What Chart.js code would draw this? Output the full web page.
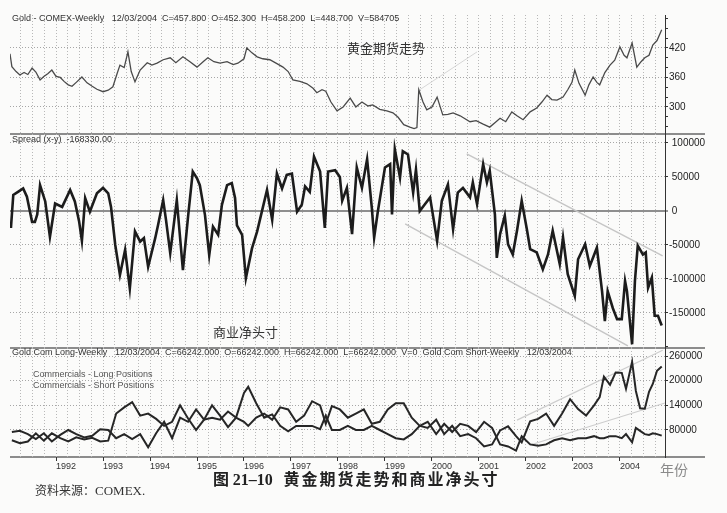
<!DOCTYPE html>
<html>
<head>
<meta charset="utf-8">
<title>黄金期货走势和商业净头寸</title>
<script src="https://cdn.jsdelivr.net/npm/chart.js@4.4.1/dist/chart.umd.min.js"></script>
<style>
  body { margin: 0; background: #fbfbfa; }
  #page { position: relative; width: 727px; height: 513px; overflow: hidden;
          font-family: 'Liberation Sans', Arial, sans-serif; color: #333; }
  canvas { position: absolute; left: 10px; }
  .rule { position: absolute; left: 10px; width: 695px; height: 2px; background: #8c8c8c; }
  .txt { position: absolute; white-space: pre; line-height: 1; }
  .hdr { font-size: 9px; color: #333; }
  .leg { font-size: 9px; color: #555; }
  .cn { font-family: 'Noto Sans CJK SC', sans-serif; font-size: 13px; color: #333; }
  .num { font-family: 'Liberation Serif', serif; }
</style>
</head>
<body>
<div id="page">
  <div class="rule" style="top:133px"></div>
  <div class="rule" style="top:347px"></div>
  <div class="rule" style="top:456px"></div>

  <canvas id="gold" width="695" height="119" style="top:15px"></canvas>
  <canvas id="spread" width="695" height="214" style="top:134px"></canvas>
  <canvas id="cot" width="695" height="124" style="top:348px"></canvas>

  <div class="txt hdr" style="left:12px; top:14px">Gold - COMEX-Weekly   12/03/2004  C=457.800  O=452.300  H=458.200  L=448.700  V=584705</div>
  <div class="txt hdr" style="left:12px; top:135px">Spread (x-y)  -168330.00</div>
  <div class="txt hdr" style="left:12px; top:348px">Gold Com Long-Weekly   12/03/2004  C=66242.000  O=66242.000  H=66242.000  L=66242.000  V=0  Gold Com Short-Weekly   12/03/2004</div>
  <div class="txt leg" style="left:33px; top:370px">Commercials - Long Positions</div>
  <div class="txt leg" style="left:33px; top:381px">Commercials - Short Positions</div>

  <div class="txt cn" style="left:347px; top:41px">黄金期货走势</div>
  <div class="txt cn" style="left:213px; top:325px">商业净头寸</div>
  <div class="txt cn" style="left:660px; top:462px; font-size:14px; color:#8a8a8a">年份</div>
  <div class="txt cn" style="left:213px; top:470px; font-size:16px; font-weight:bold; color:#222">图 <span class="num">21–10</span>   <span style="letter-spacing:2px">黄金期货走势和商业净头寸</span></div>
  <div class="txt cn" style="left:35px; top:484px; font-size:12px; color:#333">资料来源：<span class="num" style="font-size:13px">COMEX.</span></div>
</div>

<script>
// ---- data (dates as decimal years) ----
const yearLabels = [1992, 1993, 1994, 1995, 1996, 1997, 1998, 1999, 2000, 2001, 2002, 2003, 2004];
const goldTicks = [260, 280, 300, 320, 340, 360, 380, 400, 420, 440, 460, 480];
const goldTickLabels = [300, 360, 420];
const spreadTicks = [-200000, -150000, -100000, -50000, 0, 50000, 100000];
const spreadTickLabels = [100000, 50000, 0, -50000, -100000, -150000];
const cotTickLabels = [80000, 140000, 200000, 260000];

const goldYears = [
  1991.02, 1991.06, 1991.15, 1991.23, 1991.32, 1991.40, 1991.49, 1991.57, 1991.66, 1991.74,
  1991.83, 1991.91, 1992.00, 1992.09, 1992.17, 1992.26, 1992.34, 1992.43, 1992.55, 1992.66,
  1992.77, 1992.87, 1993.00, 1993.11, 1993.21, 1993.30, 1993.36, 1993.45, 1993.53, 1993.60,
  1993.68, 1993.79, 1993.94, 1994.04, 1994.15, 1994.28, 1994.43, 1994.55, 1994.70, 1994.85,
  1995.00, 1995.13, 1995.23, 1995.36, 1995.49, 1995.64, 1995.77, 1995.87, 1996.00, 1996.06,
  1996.17, 1996.28, 1996.40, 1996.55, 1996.70, 1996.83, 1996.94, 1997.04, 1997.19, 1997.34,
  1997.47, 1997.55, 1997.66, 1997.74, 1997.85, 1997.98, 1998.11, 1998.26, 1998.38, 1998.51,
  1998.64, 1998.74, 1998.89, 1999.04, 1999.17, 1999.28, 1999.40, 1999.53, 1999.62, 1999.68,
  1999.72, 1999.81, 1999.89, 2000.00, 2000.11, 2000.23, 2000.34, 2000.45, 2000.60, 2000.81,
  2000.94, 2001.09, 2001.23, 2001.34, 2001.45, 2001.57, 2001.70, 2001.81, 2001.94, 2002.09,
  2002.23, 2002.34, 2002.45, 2002.55, 2002.66, 2002.79, 2002.89, 2002.98, 2003.04, 2003.13,
  2003.26, 2003.34, 2003.43, 2003.51, 2003.57, 2003.68, 2003.79, 2003.89, 2004.00, 2004.09,
  2004.15, 2004.26, 2004.36, 2004.45, 2004.53, 2004.62, 2004.70, 2004.79, 2004.89
];
const goldPrices = [
  408, 382, 372, 365, 370, 366, 379, 371, 355, 362,
  368, 375, 362, 360, 352, 345, 342, 350, 361, 349,
  342, 336, 331, 334, 341, 368, 385, 380, 412, 372,
  351, 375, 390, 385, 389, 396, 400, 390, 402, 392,
  381, 392, 400, 392, 389, 392, 386, 389, 398, 420,
  410, 402, 398, 396, 388, 381, 372, 355, 352, 347,
  338, 329, 335, 332, 310, 292, 300, 318, 300, 310,
  302, 304, 295, 292, 288, 279, 264, 259, 256, 258,
  335, 310, 294, 300, 320, 284, 285, 288, 282, 270,
  272, 265, 259, 268, 277, 270, 290, 282, 274, 290,
  298, 310, 324, 315, 314, 320, 335, 350, 375, 348,
  324, 345, 361, 350, 345, 370, 385, 395, 422, 405,
  400, 430, 381, 392, 400, 405, 426, 435, 457
];

const spreadYears = [
  1991.04, 1991.09, 1991.19, 1991.30, 1991.38, 1991.49, 1991.55, 1991.60, 1991.66, 1991.77,
  1991.87, 1991.98, 1992.13, 1992.30, 1992.40, 1992.49, 1992.55, 1992.62, 1992.72, 1992.87,
  1993.00, 1993.11, 1993.17, 1993.26, 1993.36, 1993.47, 1993.57, 1993.68, 1993.79, 1993.87,
  1993.96, 1994.11, 1994.17, 1994.28, 1994.34, 1994.43, 1994.57, 1994.70, 1994.81, 1994.91,
  1995.00, 1995.06, 1995.17, 1995.26, 1995.34, 1995.45, 1995.53, 1995.64, 1995.74, 1995.81,
  1995.85, 1995.96, 1996.04, 1996.17, 1996.28, 1996.38, 1996.49, 1996.60, 1996.70, 1996.81,
  1996.91, 1997.02, 1997.13, 1997.23, 1997.30, 1997.40, 1997.49, 1997.62, 1997.72, 1997.79,
  1997.94, 1998.04, 1998.09, 1998.19, 1998.30, 1998.40, 1998.51, 1998.62, 1998.72, 1998.77,
  1998.85, 1999.00, 1999.11, 1999.15, 1999.21, 1999.32, 1999.38, 1999.49, 1999.60, 1999.66,
  1999.74, 1999.85, 1999.96, 2000.11, 2000.21, 2000.34, 2000.45, 2000.55, 2000.66, 2000.81,
  2000.87, 2000.96, 2001.09, 2001.17, 2001.23, 2001.34, 2001.38, 2001.45, 2001.55, 2001.62,
  2001.72, 2001.81, 2001.91, 2002.02, 2002.09, 2002.23, 2002.36, 2002.47, 2002.57, 2002.72,
  2002.79, 2002.89, 2003.04, 2003.11, 2003.26, 2003.36, 2003.51, 2003.62, 2003.68, 2003.74,
  2003.85, 2003.94, 2004.04, 2004.11, 2004.15, 2004.26, 2004.32, 2004.38, 2004.49, 2004.55,
  2004.60, 2004.68, 2004.74, 2004.81, 2004.89
];
const spreadValues = [
  -25000, 23500, 28000, 33000, 21000, -16000, -16000, -5000, 38000, 14000,
  -38000, 11000, 6000, 31000, 14000, -15000, -44000, 19000, -1000, 26000,
  34000, 26000, 6000, -50000, -94000, -57000, -114000, -30000, -45000, -40000,
  -82000, -40000, -21000, 16000, -13000, -62000, 16000, -87000, -8000, 58000,
  48000, 38000, -6000, -65000, -23000, -35000, 9000, 38000, 41000, 19000,
  -21000, -35000, -99000, -55000, -30000, -1000, 31000, -13000, 55000, 33000,
  53000, 55000, -1000, 9000, 36000, 28000, 80000, 58000, -25000, 58000,
  60000, 50000, 15000, 34000, -34000, 64000, 34000, 76000, 5000, -39000,
  0, 64000, 69000, -5000, 91000, 49000, 88000, 83000, 27000, 61000,
  0, 10000, 20000, -44000, 15000, 39000, -27000, 27000, 34000, 20000,
  42000, 10000, 69000, 42000, 59000, -5000, -69000, -34000, -7000, -49000,
  -64000, -29000, 15000, -27000, -56000, -61000, -86000, -64000, -29000, -78000,
  -39000, -93000, -125000, -71000, -49000, -81000, -54000, -118000, -162000, -118000,
  -143000, -159000, -159000, -103000, -118000, -196000, -103000, -51000, -64000, -61000,
  -113000, -98000, -154000, -154000, -168330
];

const cotYears = [
  1991.06, 1991.23, 1991.40, 1991.57, 1991.74, 1991.91, 1992.09, 1992.26, 1992.43, 1992.60,
  1992.77, 1992.94, 1993.11, 1993.28, 1993.45, 1993.62, 1993.79, 1993.96, 1994.13, 1994.30,
  1994.47, 1994.64, 1994.81, 1994.98, 1995.15, 1995.32, 1995.49, 1995.66, 1995.83, 1996.00,
  1996.09, 1996.26, 1996.43, 1996.60, 1996.77, 1996.94, 1997.11, 1997.28, 1997.45, 1997.62,
  1997.74, 1997.87, 1998.04, 1998.21, 1998.38, 1998.55, 1998.72, 1998.89, 1999.06, 1999.23,
  1999.40, 1999.57, 1999.74, 1999.91, 2000.09, 2000.26, 2000.43, 2000.60, 2000.77, 2000.94,
  2001.11, 2001.28, 2001.45, 2001.62, 2001.79, 2001.91, 2002.09, 2002.26, 2002.43, 2002.60,
  2002.77, 2002.94, 2003.11, 2003.28, 2003.45, 2003.57, 2003.66, 2003.79, 2003.91, 2004.04,
  2004.13, 2004.26, 2004.34, 2004.43, 2004.53, 2004.62, 2004.70, 2004.79, 2004.89
];
const longPositions = [
  75000, 78000, 70000, 58000, 72000, 52000, 68000, 80000, 70000, 62000,
  66000, 82000, 80000, 60000, 70000, 58000, 70000, 38000, 72000, 100000,
  60000, 110000, 100000, 130000, 105000, 110000, 105000, 125000, 110000, 100000,
  90000, 110000, 120000, 105000, 135000, 130000, 100000, 115000, 150000, 140000,
  95000, 138000, 130000, 110000, 120000, 130000, 95000, 100000, 130000, 145000,
  145000, 110000, 90000, 100000, 70000, 95000, 75000, 95000, 90000, 75000,
  100000, 85000, 45000, 40000, 30000, 65000, 45000, 42000, 45000, 55000,
  60000, 55000, 60000, 60000, 65000, 60000, 60000, 65000, 65000, 60000,
  70000, 50000, 85000, 78000, 70000, 68000, 72000, 70000, 66242
];
const shortPositions = [
  55000, 48000, 52000, 72000, 54000, 72000, 60000, 52000, 62000, 57000,
  61000, 52000, 54000, 120000, 135000, 148000, 115000, 120000, 107000, 90000,
  100000, 140000, 108000, 80000, 105000, 140000, 115000, 87000, 110000, 170000,
  185000, 145000, 110000, 118000, 90000, 77000, 90000, 90000, 90000, 82000,
  115000, 80000, 80000, 90000, 80000, 80000, 90000, 80000, 70000, 60000,
  57000, 70000, 90000, 85000, 105000, 70000, 90000, 65000, 70000, 60000,
  40000, 45000, 79000, 89000, 65000, 50000, 101000, 107000, 120000, 90000,
  120000, 155000, 131000, 115000, 140000, 160000, 210000, 190000, 220000, 219000,
  180000, 246000, 175000, 133000, 132000, 173000, 192000, 224000, 234572
];

// hand-drawn trend lines on the original chart: [year, value] end points
const goldTrend = [[1999.74, 335], [2000.96, 412]];
const spreadUpperChannel = [[2000.74, 84000], [2004.91, -66000]];
const spreadLowerChannel = [[1999.43, -19000], [2004.17, -198500]];
const cotUpperTrend = [[2001.81, 104000], [2004.91, 274000]];
const cotLowerTrend = [[2002.09, 43500], [2004.96, 145700]];

const xMin = 1991.02, xMax = 2004.96;

Chart.defaults.font.family = "'Liberation Sans', Arial, sans-serif";
Chart.defaults.animation = false;

const toPoints = (xs, ys) => xs.map((x, i) => ({ x: x, y: ys[i] }));
const pairPoints = pairs => pairs.map(p => ({ x: p[0], y: p[1] }));

const quarterTicks = [];
for (let q = 1991.25; q < xMax; q += 0.25) quarterTicks.push(q);

function lineSet(data, color, width, order) {
  return { data: data, borderColor: color, borderWidth: width, pointRadius: 0, tension: 0, fill: false, order: order };
}

function xAxis(showLabels) {
  return {
    type: 'linear', min: xMin, max: xMax,
    afterBuildTicks: axis => { axis.ticks = quarterTicks.map(v => ({ value: v })); },
    ticks: {
      display: showLabels, autoSkip: false, maxRotation: 0, minRotation: 0,
      align: 'start', padding: 0, color: '#333', font: { size: 9 },
      callback: v => yearLabels.includes(v) ? String(v) : ''
    },
    grid: {
      color: '#b8b8b8', lineWidth: 1, drawTicks: showLabels, tickLength: 4, tickWidth: 1,
      tickColor: ctx => ctx.tick && yearLabels.includes(ctx.tick.value) ? '#333' : 'rgba(0,0,0,0)'
    },
    border: { display: false, dash: [1, 2] },
    afterFit: s => { s.height = showLabels ? 15 : 0; s.paddingLeft = 0; s.paddingRight = 0; }
  };
}

function yAxis(min, max, tickValues, labels, opts) {
  opts = opts || {};
  return {
    type: 'linear', position: 'right', min: min, max: max,
    afterBuildTicks: axis => { axis.ticks = tickValues.map(v => ({ value: v })); },
    ticks: {
      autoSkip: false, padding: 1, color: '#222', font: { size: 10 },
      callback: v => labels.includes(v) ? ((opts.signSpace && v >= 0) ? ' ' + v : String(v)) : ''
    },
    grid: {
      color: ctx => {
        if (!ctx.tick) return '#aaa';
        if (opts.zeroLine && ctx.tick.value === 0) return '#8e8e8e';
        return labels.includes(ctx.tick.value) ? '#a6a6a6' : 'rgba(0,0,0,0)';
      },
      lineWidth: ctx => (opts.zeroLine && ctx.tick && ctx.tick.value === 0) ? 2 : 1,
      tickColor: '#333', tickLength: 3, tickWidth: 1
    },
    border: {
      display: true, color: '#333', width: 1,
      dash: ctx => (opts.zeroLine && ctx.tick && ctx.tick.value === 0) ? [] : [1, 2]
    },
    afterFit: s => { s.width = 40; s.paddingTop = 0; s.paddingBottom = 0; }
  };
}

function panel(id, datasets, y, showX) {
  return new Chart(document.getElementById(id), {
    type: 'line',
    data: { datasets: datasets },
    options: {
      responsive: false,
      maintainAspectRatio: false,
      layout: { padding: 0 },
      plugins: { legend: { display: false }, tooltip: { enabled: false } },
      scales: { x: xAxis(showX), y: y }
    }
  });
}

panel('gold', [
  lineSet(toPoints(goldYears, goldPrices), '#4a4a4a', 1.3, 1),
  lineSet(pairPoints(goldTrend), '#d6d6d6', 1, 2)
], yAxis(245, 487, goldTicks, goldTickLabels), false);

panel('spread', [
  lineSet(toPoints(spreadYears, spreadValues), '#1c1c1c', 2.6, 1),
  lineSet(pairPoints(spreadUpperChannel), '#c6c6c6', 1.5, 2),
  lineSet(pairPoints(spreadLowerChannel), '#c6c6c6', 1.5, 2)
], yAxis(-201500, 113200, spreadTicks, spreadTickLabels, { zeroLine: true, signSpace: true }), false);

panel('cot', [
  lineSet(toPoints(cotYears, longPositions), '#262626', 2, 1),
  lineSet(toPoints(cotYears, shortPositions), '#262626', 2, 1),
  lineSet(pairPoints(cotUpperTrend), '#cdcdcd', 1.2, 2),
  lineSet(pairPoints(cotLowerTrend), '#cdcdcd', 1.2, 2)
], yAxis(14300, 279500, cotTickLabels, cotTickLabels), true);
</script>
</body>
</html>
